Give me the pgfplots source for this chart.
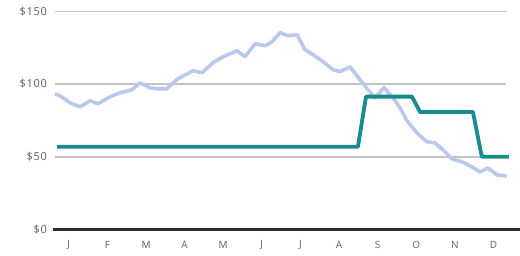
\documentclass[border=0pt]{standalone}
\usepackage{fontspec}
\setmainfont{Open Sans}
\usepackage{pgfplots}
\pgfplotsset{compat=1.18}
\definecolor{tealline}{HTML}{178C8C}
\definecolor{blueline}{HTML}{B9C9EC}
\definecolor{gridc}{HTML}{C4C4C4}
\definecolor{basec}{HTML}{2E2E2E}
\definecolor{labc}{HTML}{5E5E5E}
\begin{document}
\begin{tikzpicture}
\path[use as bounding box] (0,0) rectangle (520pt,255pt);
\begin{axis}[
  at={(55pt,25.3pt)}, anchor=south west,
  scale only axis, width=451pt, height=218.4pt,
  xmin=0.142, xmax=11.826, ymin=0, ymax=150,
  clip=false,
  axis x line*=bottom, axis y line*=left,
  x axis line style={line width=3pt, color=basec, shorten <=-2pt, shorten >=-14pt, -},
  y axis line style={draw=none},
  ymajorgrids, grid style={gridc, line width=1.3pt},
  ytick={0,50,100,150},
  yticklabels={\$0,\$50,\$100,\$150},
  xtick={0.5,1.5,2.5,3.5,4.5,5.5,6.5,7.5,8.5,9.5,10.5,11.5},
  xticklabels={J,F,M,A,M,J,J,A,S,O,N,D},
  major tick length=0pt, tick style={draw=none},
  /pgf/number format/assume math mode=true,
  tick label style={text=labc},
  yticklabel style={anchor=east, xshift=-8pt, inner sep=0pt,
    font=\fontsize{11}{13}\selectfont\addfontfeature{LetterSpace=6}},
  xticklabel style={anchor=center, yshift=-15pt, inner sep=0pt,
    font=\fontsize{10}{12}\selectfont},
]
\addplot[blueline, line width=3.6pt, line join=round] coordinates {
(0.14,93.3)(0.272,92.0)(0.531,87.2)(0.790,84.4)(1.049,88.5)(1.256,86.5)
(1.567,91.3)(1.826,94.0)(2.137,96.1)(2.345,100.9)(2.604,97.4)(2.785,96.8)
(3.044,96.8)(3.122,98.9)(3.329,103.7)(3.718,109.2)(3.951,107.8)(4.236,114.7)
(4.495,118.8)(4.858,122.9)(5.065,118.8)(5.324,127.7)(5.583,126.3)(5.764,129.1)
(5.972,135.3)(6.179,133.2)(6.412,133.9)(6.619,123.6)(6.826,120.2)(7.085,115.4)
(7.345,109.9)(7.526,108.5)(7.785,111.9)(8.044,103.0)(8.251,96.1)(8.433,90.6)
(8.666,97.5)(8.899,90.6)(9.080,83.7)(9.262,74.8)(9.521,66.5)(9.780,60.3)
(9.987,59.6)(10.194,54.8)(10.428,48.6)(10.687,46.6)(10.946,43.1)(11.153,39.7)
(11.360,42.4)(11.593,37.6)(11.852,36.9)
};
\addplot[tealline, line width=3.8pt, line join=round] coordinates {
(0.194,57.0)(7.99,57.0)(8.20,91.4)(9.39,91.4)(9.60,80.8)(10.97,80.8)(11.20,50.1)(11.90,50.1)
};
\end{axis}
\end{tikzpicture}
\end{document}
